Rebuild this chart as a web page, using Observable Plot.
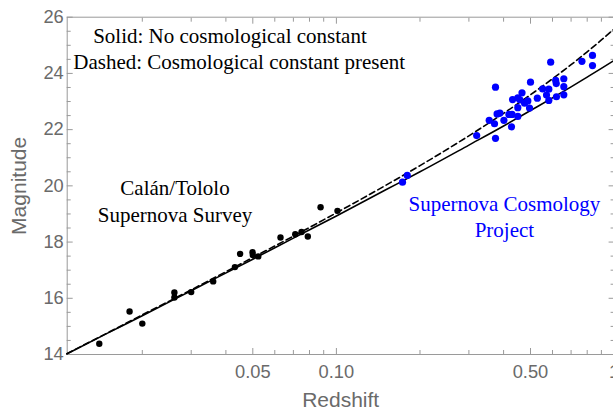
<!DOCTYPE html>
<html><head><meta charset="utf-8">
<script src="https://cdn.jsdelivr.net/npm/d3@7"></script>
<script src="https://cdn.jsdelivr.net/npm/@observablehq/plot@0.6"></script>
<style>body{margin:0;background:#fff;}</style>
</head><body><div id="chart"></div>
<script>
// Calán/Tololo Supernova Survey (low redshift)
const calanZ = [0.0140, 0.0180, 0.0200, 0.0261, 0.0261, 0.0300, 0.0360, 0.0431, 0.0450, 0.0499, 0.0500, 0.0523, 0.0629, 0.0711, 0.0749, 0.0789, 0.0877, 0.1009];
const calanM = [14.38, 15.53, 15.10, 16.21, 16.03, 16.22, 16.60, 17.11, 17.58, 17.64, 17.54, 17.49, 18.16, 18.28, 18.36, 18.20, 19.24, 19.11];
// Supernova Cosmology Project (high redshift)
const scpZ = [0.173, 0.180, 0.320, 0.374, 0.374, 0.355, 0.371, 0.379, 0.388, 0.401, 0.418, 0.429, 0.427, 0.450, 0.431, 0.450, 0.466, 0.458, 0.476, 0.450, 0.489, 0.496, 0.500, 0.529, 0.553, 0.571, 0.582, 0.582, 0.591, 0.616, 0.619, 0.620, 0.659, 0.659, 0.659, 0.766, 0.836, 0.836];
const scpM = [20.13, 20.37, 21.79, 23.51, 21.69, 22.33, 22.21, 22.56, 22.59, 22.33, 22.54, 22.54, 22.10, 22.47, 23.07, 23.13, 23.31, 23.06, 22.94, 22.78, 23.02, 22.77, 23.69, 23.12, 23.45, 23.23, 23.44, 23.04, 24.40, 23.75, 23.64, 23.17, 23.81, 23.53, 23.24, 24.43, 24.64, 24.28];
// Model curves
const curveZ = [0.0107, 0.015, 0.02, 0.03, 0.05, 0.07, 0.1, 0.15, 0.2, 0.3, 0.4, 0.5, 0.6, 0.7, 0.8, 0.9, 1.0];
const solidM = [14.02, 14.76, 15.38, 16.27, 17.39, 18.14, 18.93, 19.85, 20.50, 21.45, 22.13, 22.68, 23.13, 23.52, 23.87, 24.18, 24.46];
const dashedM = [14.03, 14.77, 15.41, 16.30, 17.45, 18.21, 19.04, 20.01, 20.72, 21.78, 22.58, 23.24, 23.81, 24.31, 24.77, 25.19, 25.58];
// Ticks
const majorX = [0.05, 0.1, 0.5, 1];
const xTickLabels = ["0.05", "0.10", "0.50", "1"];
const minorX = [0.02, 0.03, 0.04, 0.06, 0.07, 0.08, 0.09, 0.2, 0.3, 0.4, 0.6, 0.7, 0.8, 0.9];
const majorY = [14, 16, 18, 20, 22, 24, 26];
const minorY = [14.5, 15, 15.5, 16.5, 17, 17.5, 18.5, 19, 19.5, 20.5, 21, 21.5, 22.5, 23, 23.5, 24.5, 25, 25.5];

const calan = calanZ.map((z, i) => ({z, m: calanM[i]}));
const scp = scpZ.map((z, i) => ({z, m: scpM[i]}));
const solid = curveZ.map((z, i) => ({z, m: solidM[i]}));
const dashed = curveZ.map((z, i) => ({z, m: dashedM[i]}));
const xTicks = majorX.map((z, i) => ({z, label: xTickLabels[i]}));

const frameGray = "#9a9a9a";
const textGray = "#6a6a6a";
const blue = "#0000ff";
const serif = "'Liberation Serif', 'Times New Roman', serif";

const chart = Plot.plot({
  width: 613,
  height: 413,
  marginLeft: 66.7,
  marginRight: -0.6,
  marginTop: 16.7,
  marginBottom: 59,
  x: {type: "log", domain: [0.01073, 1]},
  y: {domain: [14, 26]},
  style: {fontFamily: "'Liberation Sans', Arial, sans-serif", background: "#fff", overflow: "hidden"},
  marks: [
    Plot.frame({stroke: frameGray, strokeWidth: 1}),
    // bottom tick labels (drawn as text on the x scale, anchored to the frame bottom)
    Plot.text(xTicks, {x: "z", text: "label", frameAnchor: "bottom", dy: 10.5, lineAnchor: "top", textAnchor: "middle", fill: textGray, fontSize: 18.3}),
    // inward ticks bottom / top
    Plot.axisX(majorX, {anchor: "bottom", tickSize: -6, tickFormat: () => "", stroke: frameGray, label: null}),
    Plot.axisX(minorX, {anchor: "bottom", tickSize: -4, tickFormat: () => "", stroke: frameGray, label: null}),
    Plot.axisX(majorX, {anchor: "top", tickSize: -6, tickFormat: () => "", stroke: frameGray, label: null}),
    Plot.axisX(minorX, {anchor: "top", tickSize: -4, tickFormat: () => "", stroke: frameGray, label: null}),
    // left tick labels
    Plot.axisY(majorY, {anchor: "left", tickSize: 0, tickPadding: 3.4, fill: textGray, fontSize: 18.3, label: null}),
    Plot.axisY(majorY, {anchor: "left", tickSize: -6, tickFormat: () => "", stroke: frameGray, label: null}),
    Plot.axisY(minorY, {anchor: "left", tickSize: -4, tickFormat: () => "", stroke: frameGray, label: null}),
    Plot.axisY(majorY, {anchor: "right", tickSize: -6, tickFormat: () => "", stroke: frameGray, label: null}),
    Plot.axisY(minorY, {anchor: "right", tickSize: -4, tickFormat: () => "", stroke: frameGray, label: null}),
    // axis titles
    Plot.text(["Magnitude"], {frameAnchor: "left", rotate: -90, dx: -48, fill: textGray, fontSize: 21, textAnchor: "middle", lineAnchor: "middle"}),
    Plot.text(["Redshift"], {frameAnchor: "bottom", dy: 52.7, fill: textGray, fontSize: 21, textAnchor: "middle", lineAnchor: "bottom"}),
    // model curves
    Plot.line(solid, {x: "z", y: "m", stroke: "black", strokeWidth: 1.6, curve: "monotone-x"}),
    Plot.line(dashed, {x: "z", y: "m", stroke: "black", strokeWidth: 1.6, strokeDasharray: "6,3.5", curve: "monotone-x"}),
    // data
    Plot.dot(calan, {x: "z", y: "m", r: 3.2, fill: "black"}),
    Plot.dot(scp, {x: "z", y: "m", r: 3.6, fill: blue}),
    // annotations
    Plot.text(["Solid: No cosmological constant"], {x: 0.01331, y: 25.075, textAnchor: "start", lineAnchor: "bottom", fontFamily: serif, fontSize: 21, fill: "black"}),
    Plot.text(["Dashed: Cosmological constant present"], {x: 0.01128, y: 24.164, textAnchor: "start", lineAnchor: "bottom", fontFamily: serif, fontSize: 21, fill: "black"}),
    Plot.text(["Calán/Tololo"], {x: 0.02623, y: 19.657, textAnchor: "middle", lineAnchor: "bottom", fontFamily: serif, fontSize: 21, fill: "black"}),
    Plot.text(["Supernova Survey"], {x: 0.02623, y: 18.707, textAnchor: "middle", lineAnchor: "bottom", fontFamily: serif, fontSize: 21, fill: "black"}),
    Plot.text(["Supernova Cosmology"], {x: 0.4027, y: 19.088, textAnchor: "middle", lineAnchor: "bottom", fontFamily: serif, fontSize: 21, fill: blue}),
    Plot.text(["Project"], {x: 0.4027, y: 18.163, textAnchor: "middle", lineAnchor: "bottom", fontFamily: serif, fontSize: 21, fill: blue})
  ]
});
document.getElementById("chart").appendChild(chart);
</script>
</body></html>
